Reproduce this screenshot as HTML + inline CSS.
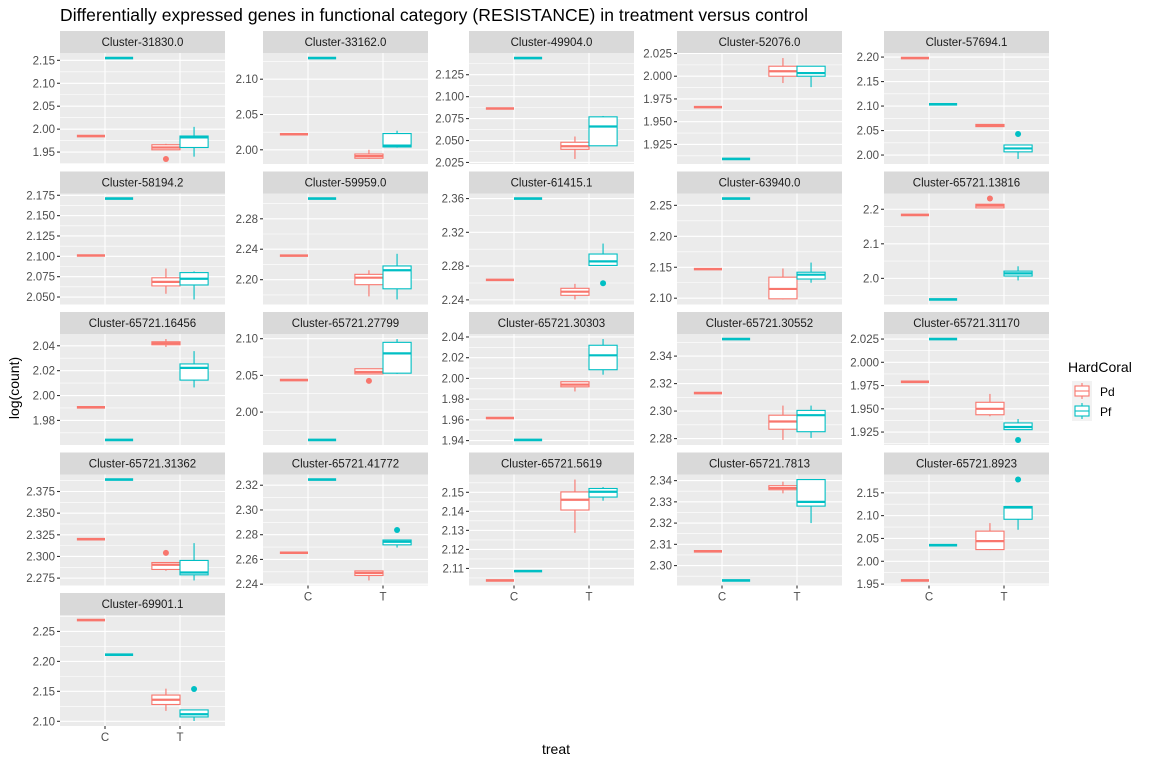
<!DOCTYPE html>
<html><head><meta charset="utf-8"><style>
html,body{margin:0;padding:0;background:#fff;}
svg{display:block;font-family:"Liberation Sans",Arial,sans-serif;}
</style></head><body>
<svg id="chart" width="1152" height="768" viewBox="0 0 1152 768">
<text x="60" y="21" font-size="17.5" fill="#000" textLength="748">Differentially expressed genes in functional category (RESISTANCE) in treatment versus control</text>
<text x="556" y="754" font-size="14" text-anchor="middle" fill="#000">treat</text>
<text transform="translate(19,388) rotate(-90)" font-size="14" text-anchor="middle" fill="#000">log(count)</text>
<g id="panels"></g>
<g id="legend"></g>
</svg>
<script>
const panelNames=["Cluster-31830.0","Cluster-33162.0","Cluster-49904.0","Cluster-52076.0","Cluster-57694.1","Cluster-58194.2","Cluster-59959.0","Cluster-61415.1","Cluster-63940.0","Cluster-65721.13816","Cluster-65721.16456","Cluster-65721.27799","Cluster-65721.30303","Cluster-65721.30552","Cluster-65721.31170","Cluster-65721.31362","Cluster-65721.41772","Cluster-65721.5619","Cluster-65721.7813","Cluster-65721.8923","Cluster-69901.1"];
const yTicks=[["1.95","2.00","2.05","2.10","2.15"],["2.00","2.05","2.10"],["2.025","2.050","2.075","2.100","2.125"],["1.925","1.950","1.975","2.000","2.025"],["2.00","2.05","2.10","2.15","2.20"],
["2.050","2.075","2.100","2.125","2.150","2.175"],["2.20","2.24","2.28"],["2.24","2.28","2.32","2.36"],["2.10","2.15","2.20","2.25"],["2.0","2.1","2.2"],
["1.98","2.00","2.02","2.04"],["2.00","2.05","2.10"],["1.94","1.96","1.98","2.00","2.02","2.04"],["2.28","2.30","2.32","2.34"],["1.925","1.950","1.975","2.000","2.025"],
["2.275","2.300","2.325","2.350","2.375"],["2.24","2.26","2.28","2.30","2.32"],["2.11","2.12","2.13","2.14","2.15"],["2.30","2.31","2.32","2.33","2.34"],["1.95","2.00","2.05","2.10","2.15"],["2.10","2.15","2.20","2.25"]];
const minorStep=[0.025,0.025,0.0125,0.0125,0.025,0.0125,0.02,0.02,0.025,0.05,0.01,0.025,0.01,0.01,0.0125,0.0125,0.01,0.005,0.005,0.025,0.025];
const ctrlPd=[1.985,2.022,2.0865,1.966,2.198,2.101,2.2316,2.2637,2.147,2.1836,1.9905,2.0436,1.9617,2.3131,1.979,2.32,2.2654,2.1037,2.3067,1.958,2.269];
const ctrlPf=[2.155,2.13,2.144,1.909,2.1035,2.171,2.3066,2.36,2.261,1.939,1.9643,1.962,1.9406,2.3524,2.025,2.3888,2.3246,2.1086,2.293,2.0352,2.2112];
// [lower whisker, q1, median, q3, upper whisker]
const treatPdBox=[[1.955,1.955,1.96,1.966,1.968],[1.987,1.988,1.991,1.994,2.0],[2.029,2.040,2.0435,2.048,2.0546],[1.9925,2.0,2.0055,2.011,2.020],[2.058,2.058,2.06,2.0625,2.063],
[2.054,2.0636,2.0686,2.0736,2.085],[2.178,2.1934,2.2026,2.207,2.2124],[2.2405,2.2454,2.2497,2.2537,2.259],[2.098,2.099,2.115,2.134,2.148],[2.204,2.204,2.2106,2.2145,2.2145],
[2.039,2.0408,2.042,2.0432,2.0454],[2.052,2.052,2.0546,2.059,2.059],[1.9874,1.9919,1.994,1.9968,1.9968],[2.279,2.2868,2.2924,2.297,2.304],[1.942,1.9436,1.950,1.957,1.966],
[2.2835,2.285,2.2904,2.293,2.293],[2.243,2.247,2.249,2.2507,2.2507],[2.1287,2.1407,2.1461,2.1502,2.1567],[2.334,2.3357,2.3365,2.3376,2.3395],[2.0245,2.0256,2.0442,2.066,2.0836],[2.1174,2.1281,2.136,2.1438,2.1545]];
const treatPfBox=[[1.94,1.96,1.982,1.985,2.005],[2.003,2.004,2.006,2.023,2.027],[2.044,2.044,2.066,2.077,2.078],[1.988,2.0,2.0035,2.011,2.011],[1.992,2.0065,2.0135,2.0205,2.0205],
[2.047,2.0648,2.0724,2.080,2.0815],[2.174,2.188,2.2124,2.218,2.234],[2.2808,2.2808,2.2856,2.2943,2.3067],[2.125,2.131,2.138,2.142,2.1576],[1.994,2.0068,2.0145,2.021,2.035],
[2.0065,2.0124,2.0222,2.0254,2.0357],[2.052,2.053,2.080,2.095,2.0995],[2.0036,2.0084,2.0223,2.032,2.038],[2.2805,2.285,2.297,2.3005,2.304],[1.9276,1.9276,1.9304,1.9348,1.939],
[2.2723,2.2788,2.2815,2.2954,2.3154],[2.2696,2.2718,2.2743,2.2757,2.2757],[2.1456,2.1475,2.1503,2.152,2.1528],[2.32,2.328,2.33,2.3405,2.3405],[2.069,2.092,2.1178,2.12,2.12],[2.1006,2.1073,2.1118,2.119,2.119]];
const treatPdOut=[[1.935],[],[],[],[],[],[],[],[],[2.231],[],[2.0425],[],[],[],[2.3042],[],[],[],[],[]];
const treatPfOut=[[],[],[],[],[2.043],[],[],[2.2597],[],[],[],[],[],[],[1.9165],[],[2.2838],[],[],[2.179],[2.154]];

const NS="http://www.w3.org/2000/svg";
const colX=[60,263,469,677,884], rowY=[53,193.5,334,474.5,615];
const PW=165, PH=111, SH=22;
const PD="#F8766D", PF="#00BFC4";
const root=document.getElementById("panels");
function mk(tag,attrs,parent){const e=document.createElementNS(NS,tag);for(const k in attrs)e.setAttribute(k,attrs[k]);parent.appendChild(e);return e;}

panelNames.forEach((name,i)=>{
  const col=i%5,row=Math.floor(i/5);
  const x0=colX[col],y0=rowY[row];
  const g=mk("g",{},root);
  
  
  let vals=[ctrlPd[i],ctrlPf[i]].concat(treatPdBox[i],treatPfBox[i],treatPdOut[i],treatPfOut[i]);
  const lo=Math.min(...vals),hi=Math.max(...vals),r=hi-lo;
  const dmin=lo-0.05*r,dmax=hi+0.05*r;
  const y=v=>y0+PH*(1-(v-dmin)/(dmax-dmin));
  const xs=u=>x0+(u-0.4)/2.2*PW;
  // strip
  const st=mk("rect",{x:x0,y:y0-SH,width:PW,height:SH,fill:"#D9D9D9"},g);
  
  
  const stt=mk("text",{x:x0+PW/2,y:y0-SH+15,"font-size":"11.5","text-anchor":"middle",fill:"#1A1A1A"},g);
  stt.textContent=name;
  
  
  mk("rect",{x:x0,y:y0,width:PW,height:PH,fill:"#EBEBEB"},g);
  // minor grid
  const ms=minorStep[i];
  for(let v=Math.ceil(dmin/ms)*ms; v<=dmax; v+=ms){
    const yy=y(v);
    mk("line",{x1:x0,x2:x0+PW,y1:yy,y2:yy,stroke:"#fff","stroke-width":"0.6"},g);
  }
  // major grid + ticks
  yTicks[i].forEach(t=>{
    const yy=y(parseFloat(t));
    mk("line",{x1:x0,x2:x0+PW,y1:yy,y2:yy,stroke:"#fff","stroke-width":"1.1"},g);
    mk("line",{x1:x0-3,x2:x0,y1:yy,y2:yy,stroke:"#333","stroke-width":"1.1"},g);
    const tl=mk("text",{x:x0-5,y:yy+4,"font-size":"11.5","text-anchor":"end",fill:"#4D4D4D"},g);
    tl.textContent=t;
    
    
  });
  [1,2].forEach(u=>mk("line",{x1:xs(u),x2:xs(u),y1:y0,y2:y0+PH,stroke:"#fff","stroke-width":"1.1"},g));
  const bottom=(row===3&&col>0)||row===4;
  if(bottom){
    ["C","T"].forEach((lab,k)=>{
      const xx=xs(k+1);
      mk("line",{x1:xx,x2:xx,y1:y0+PH,y2:y0+PH+3,stroke:"#333","stroke-width":"1.1"},g);
      const tl=mk("text",{x:xx,y:y0+PH+15,"font-size":"11.5","text-anchor":"middle",fill:"#4D4D4D"},g);
      tl.textContent=lab;
      
      
    });
  }
  const bw=0.375/2.2*PW;
  // control single values
  [[ctrlPd[i],1-0.1875,PD,'control-pd'],[ctrlPf[i],1+0.1875,PF,'control-pf']].forEach(([v,u,c,nm])=>{
    const l=mk("line",{x1:xs(u)-bw/2,x2:xs(u)+bw/2,y1:y(v),y2:y(v),stroke:c,"stroke-width":"2.6"},g);
    
    
  });
  // treatment boxes
  [[treatPdBox[i],treatPdOut[i],2-0.1875,PD,'treat-pd-box'],[treatPfBox[i],treatPfOut[i],2+0.1875,PF,'treat-pf-box']].forEach(([b,outs,u,c,nm])=>{
    const cx=xs(u);
    const bg=mk("g",{},g);
    
    
    mk("line",{x1:cx,x2:cx,y1:y(b[0]),y2:y(b[1]),stroke:c,"stroke-width":"1.1"},bg);
    mk("line",{x1:cx,x2:cx,y1:y(b[3]),y2:y(b[4]),stroke:c,"stroke-width":"1.1"},bg);
    mk("rect",{x:cx-bw/2,y:y(b[3]),width:bw,height:Math.max(0.5,y(b[1])-y(b[3])),fill:"#fff",stroke:c,"stroke-width":"1.1"},bg);
    mk("line",{x1:cx-bw/2,x2:cx+bw/2,y1:y(b[2]),y2:y(b[2]),stroke:c,"stroke-width":"2.2"},bg);
    outs.forEach(o=>{
      const p=mk("circle",{cx:cx,cy:y(o),r:3,fill:c},bg);
      
      
    });
  });
});

// legend
const lg=document.getElementById("legend");
const lt=mk("text",{x:1068,y:372,"font-size":"14",fill:"#000"},lg);
lt.textContent="HardCoral";


[["Pd",PD,381],["Pf",PF,401]].forEach(([lab,c,ky])=>{
  const e=mk("g",{},lg);
  
  
  mk("rect",{x:1072,y:ky,width:20,height:20,fill:"#F2F2F2"},e);
  mk("line",{x1:1082,x2:1082,y1:ky+2,y2:ky+18,stroke:c,"stroke-width":"1.1"},e);
  mk("rect",{x:1075,y:ky+5,width:14,height:10,fill:"#fff",stroke:c,"stroke-width":"1.1"},e);
  mk("line",{x1:1075,x2:1089,y1:ky+10,y2:ky+10,stroke:c,"stroke-width":"1.1"},e);
  const t=mk("text",{x:1100,y:ky+15,"font-size":"12",fill:"#000"},e);
  t.textContent=lab;
});
</script>
</body></html>
